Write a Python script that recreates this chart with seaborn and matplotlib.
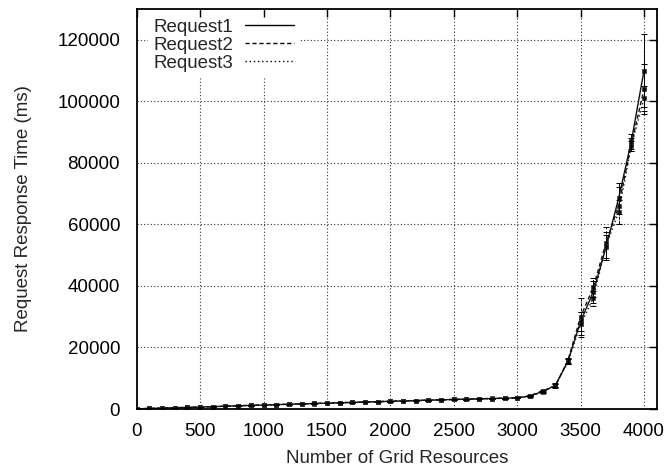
import numpy as np
import pandas as pd
import matplotlib
matplotlib.use("Agg")
import matplotlib.pyplot as plt
import seaborn as sns

# ---- data ----
grid_resources = [0, 100, 200, 300, 400, 500, 600, 700, 800, 900, 1000,
                  1100, 1200, 1300, 1400, 1500, 1600, 1700, 1800, 1900, 2000,
                  2100, 2200, 2300, 2400, 2500, 2600, 2700, 2800, 2900, 3000,
                  3100, 3200, 3300, 3400, 3500, 3600, 3700, 3800, 3900, 4000]

request1 = [50, 170, 290, 400, 510, 620, 760, 900, 1040, 1170, 1300,
            1420, 1540, 1660, 1780, 1900, 2020, 2140, 2260, 2380, 2500,
            2620, 2740, 2860, 2980, 3100, 3200, 3300, 3400, 3500, 3620,
            4200, 5700, 7600, 15500, 28500, 38000, 52500, 68500, 87000, 110000]
request2 = [60, 190, 310, 420, 530, 650, 790, 930, 1060, 1190, 1320,
            1440, 1560, 1680, 1800, 1920, 2040, 2160, 2280, 2400, 2520,
            2640, 2760, 2880, 3000, 3120, 3220, 3320, 3420, 3530, 3660,
            4300, 5900, 7400, 15800, 30000, 39500, 54000, 66000, 86000, 104000]
request3 = [55, 180, 300, 410, 520, 630, 770, 910, 1050, 1180, 1310,
            1430, 1550, 1670, 1790, 1910, 2030, 2150, 2270, 2390, 2510,
            2630, 2750, 2870, 2990, 3110, 3210, 3310, 3410, 3510, 3640,
            4150, 5500, 7700, 15300, 27500, 36000, 53000, 64000, 85500, 101000]

err1 = [30, 40, 50, 60, 60, 70, 70, 80, 80, 80, 90,
        90, 90, 100, 100, 100, 100, 110, 110, 110, 120,
        120, 120, 130, 130, 130, 140, 140, 140, 150, 150,
        200, 400, 600, 800, 3000, 3500, 4000, 5000, 2500, 12000]
err2 = [30, 40, 50, 60, 60, 70, 70, 80, 80, 80, 90,
        90, 90, 100, 100, 100, 100, 110, 110, 110, 120,
        120, 120, 130, 130, 130, 140, 140, 140, 150, 150,
        200, 400, 600, 800, 6000, 3000, 5000, 6000, 2000, 8000]
err3 = [30, 40, 50, 60, 60, 70, 70, 80, 80, 80, 90,
        90, 90, 100, 100, 100, 100, 110, 110, 110, 120,
        120, 120, 130, 130, 130, 140, 140, 140, 150, 150,
        200, 400, 600, 800, 4000, 2500, 4500, 4000, 1500, 4000]

series_names = ["Request1", "Request2", "Request3"]
x_ticks = [0, 500, 1000, 1500, 2000, 2500, 3000, 3500, 4000]
y_ticks = [0, 20000, 40000, 60000, 80000, 100000, 120000]

# ---- figure ----
sns.set_theme(style="white")
plt.rcParams["font.family"] = ["Liberation Sans", "DejaVu Sans"]
FS = 13.5

fig = plt.figure(figsize=(6.7, 4.7), dpi=100)
AX_W_PX, AX_H_PX = 520.0, 400.0
ax = fig.add_axes([136.7 / 670, 61 / 470, AX_W_PX / 670, AX_H_PX / 470])

df = pd.concat([
    pd.DataFrame({"x": grid_resources, "y": vals, "series": name})
    for name, vals in zip(series_names, [request1, request2, request3])
])

dash_styles = {"Request1": "", "Request2": (3, 2), "Request3": (1, 2)}
sns.lineplot(data=df, x="x", y="y", style="series", dashes=dash_styles,
             markers={"Request1": "s", "Request2": "s", "Request3": "s"},
             markersize=2.5, markeredgewidth=0.5, markeredgecolor="#333333",
             color="#111111", linewidth=1.0, ax=ax, legend=True)

for vals, errs, ls in zip([request1, request2, request3], [err1, err2, err3],
                          ["-", (0, (3, 2)), (0, (1, 2))]):
    eb = ax.errorbar(grid_resources, vals, yerr=errs, fmt="none",
                     ecolor="black", elinewidth=0.7, capsize=2, capthick=0.7)
    for c in eb[2]:
        c.set_linestyle(ls)

ax.set_xlim(0, 4100)
ax.set_ylim(0, 130000)
ax.set_xticks(x_ticks)
ax.set_yticks(y_ticks)
ax.set_xticklabels([str(v) for v in x_ticks], fontsize=FS)
ax.set_yticklabels([str(v) for v in y_ticks], fontsize=FS)
ax.set_xlabel("Number of Grid Resources", fontsize=FS, labelpad=7)
ax.set_ylabel("Request Response Time (ms)", fontsize=FS)
ax.yaxis.set_label_coords(-0.201, 0.5)

# dotted grid drawn low so the legend box can hide it, ticks stay on top
ax.grid(False)
for xv in x_ticks[1:]:
    ax.axvline(xv, color="#333333", linestyle=(0, (1, 2)), linewidth=0.8, zorder=0.3)
for yv in y_ticks[1:]:
    ax.axhline(yv, color="#333333", linestyle=(0, (1, 2)), linewidth=0.8, zorder=0.3)
ax.set_axisbelow(False)

ax.tick_params(axis="both", direction="in", length=6, width=1, top=True,
               right=True, colors="black", labelcolor="black")
ax.tick_params(axis="y", pad=12)
ax.tick_params(axis="x", pad=10)
for sp in ax.spines.values():
    sp.set_color("black")
    sp.set_linewidth(1.3)

bp = 0.3
bp_px = bp * FS * 100 / 72
leg = ax.legend(loc="upper left", frameon=True, markerfirst=False,
                handlelength=2.6, handletextpad=0.6, fontsize=FS,
                borderpad=bp, borderaxespad=0, labelspacing=0.04,
                fancybox=False, framealpha=1.0,
                bbox_to_anchor=((17 - bp_px) / AX_W_PX,
                                (AX_H_PX - 9.8 + bp_px) / AX_H_PX))
leg.get_frame().set_facecolor("white")
leg.get_frame().set_edgecolor("none")
leg.set_zorder(1)
for line in leg.get_lines():
    line.set_color("black")
    line.set_linewidth(1.0)
    line.set_marker("")

fig.savefig("out.png", dpi=100)
